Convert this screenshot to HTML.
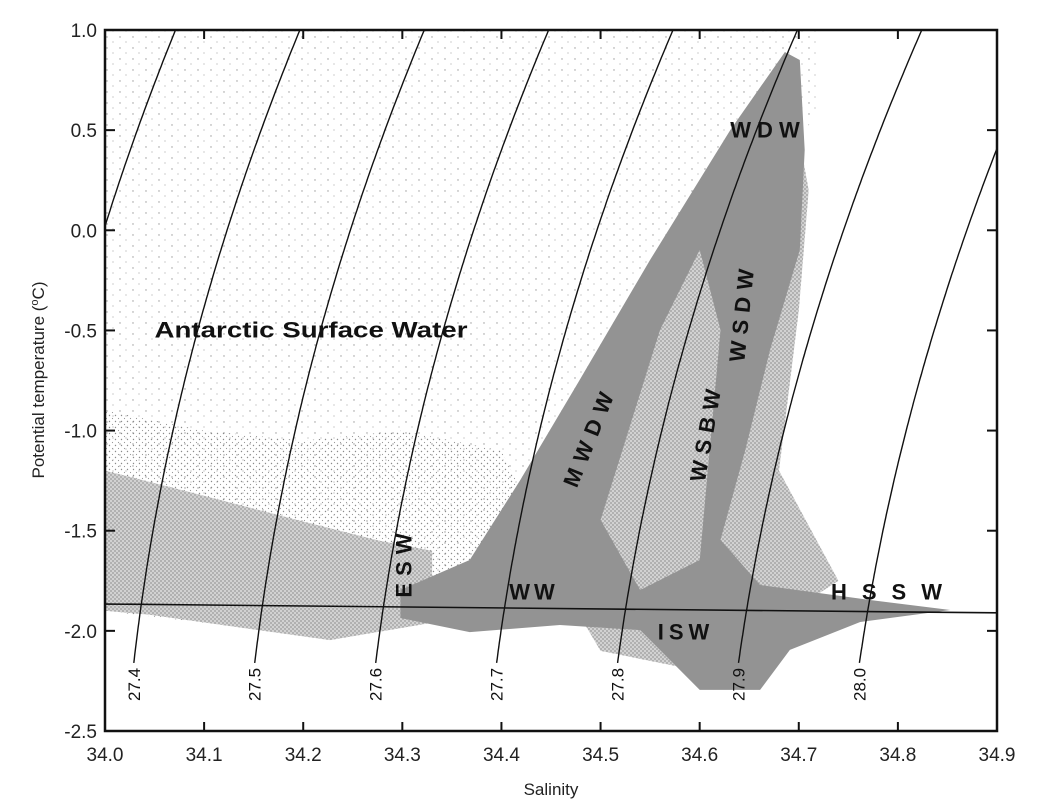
<!DOCTYPE html>
<html><head><meta charset="utf-8"><style>
body{margin:0;background:#fff;}
svg{display:block;font-family:"Liberation Sans",sans-serif;}
</style></head><body>
<svg id="chart" width="1046" height="803" viewBox="0 0 1046 803" xmlns="http://www.w3.org/2000/svg">
<defs>
<clipPath id="plotclip"><rect x="105" y="30" width="892" height="701"/></clipPath>
<pattern id="sparse" width="6" height="6" patternUnits="userSpaceOnUse">
<circle cx="1.5" cy="1.5" r="0.7" fill="#8a8a8a"/><circle cx="4.5" cy="4.5" r="0.6" fill="#999"/>
</pattern>
<pattern id="medium" width="4" height="4" patternUnits="userSpaceOnUse">
<rect width="4" height="4" fill="#d2d2d2"/>
<circle cx="1" cy="1" r="0.9" fill="#999"/><circle cx="3" cy="3" r="0.9" fill="#9a9a9a"/>
</pattern>
<pattern id="vsparse" width="13" height="11" patternUnits="userSpaceOnUse">
<circle cx="3" cy="4" r="0.7" fill="#999"/><circle cx="9" cy="9" r="0.6" fill="#aaa"/>
</pattern>
</defs>
<rect x="0" y="0" width="1046" height="803" fill="#fff"/>
<g id="clouds" clip-path="url(#plotclip)"></g>
<g id="lines" clip-path="url(#plotclip)"></g>
<g id="axes"></g>
<g id="labels"></g>
</svg>
<script>
const xTicks=[34.0,34.1,34.2,34.3,34.4,34.5,34.6,34.7,34.8,34.9];
const xTickLabels=["34.0","34.1","34.2","34.3","34.4","34.5","34.6","34.7","34.8","34.9"];
const yTicks=[1.0,0.5,0.0,-0.5,-1.0,-1.5,-2.0,-2.5];
const yTickLabels=["1.0","0.5","0.0","-0.5","-1.0","-1.5","-2.0","-2.5"];
const sigmaLevels=[27.3,27.4,27.5,27.6,27.7,27.8,27.9,28.0];
const sigmaLabels=["","27.4","27.5","27.6","27.7","27.8","27.9","28.0"];
const freezeS=[34.0,34.9];
const freezeT=[-1.866,-1.91];
// density clouds in (S,T)
const cloudSparseAll=[[34.0,1.0],[34.72,1.0],[34.72,0.6],[34.6,-0.3],[34.55,-1.2],[34.5,-1.9],[34.0,-1.87]];
const cloudMediumBand=[[34.0,-0.9],[34.1,-1.0],[34.2,-1.05],[34.3,-1.0],[34.4,-1.1],[34.45,-1.6],[34.3,-1.95],[34.2,-2.02],[34.1,-1.96],[34.0,-1.9]];
const cloudLowerBand=[[34.0,-1.2],[34.096,-1.32],[34.197,-1.45],[34.277,-1.55],[34.33,-1.6],[34.33,-1.96],[34.227,-2.046],[34.146,-1.99],[34.045,-1.92],[34.0,-1.9]];
const cloudOuterCore=[[34.44,-1.6],[34.5,-1.1],[34.57,-0.45],[34.64,0.2],[34.69,0.75],[34.71,0.2],[34.70,-0.4],[34.68,-1.2],[34.74,-1.75],[34.6,-2.2],[34.5,-2.1]];
const cloudCore=[[34.298,-1.796],[34.368,-1.646],[34.419,-1.247],[34.479,-0.747],[34.550,-0.148],[34.631,0.501],[34.686,0.890],[34.701,0.850],[34.706,0.401],[34.701,-0.098],[34.671,-0.598],[34.646,-1.097],[34.621,-1.546],[34.661,-1.771],[34.772,-1.846],[34.853,-1.896],[34.762,-1.956],[34.691,-2.095],[34.661,-2.295],[34.600,-2.295],[34.540,-1.996],[34.459,-1.971],[34.368,-2.006],[34.298,-1.936]];
const cloudLightGap=[[34.5,-1.446],[34.56,-0.498],[34.6,-0.098],[34.621,-0.498],[34.6,-1.646],[34.54,-1.796]];

const X0=105,X1=997,Y0=30,Y1=731;
const sx=s=>X0+(s-34.0)/(34.9-34.0)*(X1-X0);
const sy=t=>Y0+(1.0-t)/(1.0-(-2.5))*(Y1-Y0);
const NS="http://www.w3.org/2000/svg";
function mk(tag,attrs,parent){const e=document.createElementNS(NS,tag);for(const k in attrs)e.setAttribute(k,attrs[k]);parent.appendChild(e);return e;}
const clouds=document.getElementById('clouds'),lines=document.getElementById('lines'),axes=document.getElementById('axes'),labels=document.getElementById('labels');
function poly(pts,fill,name){const p=mk('polygon',{points:pts.map(q=>sx(q[0]).toFixed(1)+','+sy(q[1]).toFixed(1)).join(' '),fill:fill},clouds);

}
poly(cloudSparseAll,'url(#vsparse)','cloud-sparse');
poly(cloudMediumBand,'url(#sparse)','cloud-asw');
poly(cloudLowerBand,'url(#medium)','cloud-lower-band');
poly(cloudOuterCore,'url(#medium)','cloud-outer-core');
poly(cloudCore,'#939393','cloud-core');
poly(cloudLightGap,'url(#medium)','cloud-wsbw');

// isopycnals
function salAt(T,sig){const t=T+2;return 34.033+(sig-27.4)*(1.222+0.011*t)+0.0261*t+0.00948*t*t;}
sigmaLevels.forEach((sig,i)=>{let d='';for(let T=-2.16;T<=1.0001;T+=0.02){d+=(d?'L':'M')+sx(salAt(T,sig)).toFixed(1)+','+sy(T).toFixed(1);}
const p=mk('path',{d:d,fill:'none',stroke:'#111','stroke-width':1.4},lines);


if(sigmaLabels[i]){const x=sx(salAt(-2.16,sig)),y=sy(-2.16)+5;
const tx=mk('text',{x:0,y:0,transform:`translate(${x+6},${y}) rotate(-90)`,'text-anchor':'end','font-size':17,fill:'#111'},axes);
tx.textContent=sigmaLabels[i];

}});
// freezing line
const fl=mk('line',{x1:sx(freezeS[0]),y1:sy(freezeT[0]),x2:sx(freezeS[1]),y2:sy(freezeT[1]),stroke:'#111','stroke-width':1.6},lines);



// frame & ticks
const fr=mk('rect',{x:X0,y:Y0,width:X1-X0,height:Y1-Y0,fill:'none',stroke:'#111','stroke-width':2.5},axes);


xTicks.forEach((s,i)=>{const x=sx(s);
mk('line',{x1:x,y1:Y1,x2:x,y2:Y1-9,stroke:'#111','stroke-width':2},axes);
mk('line',{x1:x,y1:Y0,x2:x,y2:Y0+9,stroke:'#111','stroke-width':2},axes);
const t=mk('text',{x:x,y:Y1+30,'text-anchor':'middle','font-size':19,fill:'#222'},axes);t.textContent=xTickLabels[i];

});
yTicks.forEach((v,i)=>{const y=sy(v);
mk('line',{x1:X0,y1:y,x2:X0+10,y2:y,stroke:'#111','stroke-width':2},axes);
mk('line',{x1:X1,y1:y,x2:X1-10,y2:y,stroke:'#111','stroke-width':2},axes);
const t=mk('text',{x:X0-8,y:y+7,'text-anchor':'end','font-size':19,fill:'#222'},axes);t.textContent=yTickLabels[i];

});
const xt=mk('text',{x:551,y:795,'text-anchor':'middle','font-size':17,fill:'#222'},axes);xt.textContent='Salinity';


const yt=mk('text',{x:0,y:0,transform:'translate(44,380) rotate(-90)','text-anchor':'middle','font-size':17,fill:'#222'},axes);
yt.innerHTML='Potential temperature (<tspan baseline-shift="super" font-size="11">o</tspan>C)';



// water mass labels
function lab(txt,x,y,rot,name,ls,len){const a={x:0,y:0,transform:`translate(${x},${y}) rotate(${rot})`,'text-anchor':'middle','dominant-baseline':'central','font-size':22,'font-weight':'bold',fill:'#111','letter-spacing':ls};
if(len){a.textLength=len;a.lengthAdjust='spacingAndGlyphs';}
const t=mk('text',a,labels);t.textContent=txt;

}
lab('Antarctic Surface Water',311,330,0,'label-asw',0,313);
lab('WDW',768,130,0,'label-wdw',6);
lab('MWDW',590,436,-68,'label-mwdw',8);
lab('WSDW',742,312,-84,'label-wsdw',7);
lab('WSBW',706,432,-80,'label-wsbw',7);
lab('ESW',404,562,-90,'label-esw',7);
lab('WW',534,592,0,'label-ww',4);
lab('HSSW',894,592,0,'label-hssw',15);
lab('ISW',686,632,0,'label-isw',5);
</script>
</body></html>
